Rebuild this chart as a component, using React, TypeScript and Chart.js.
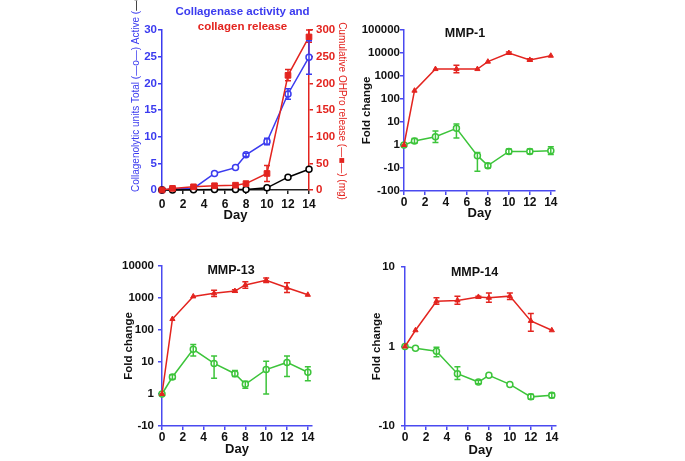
import React, { useEffect, useRef } from 'react';
import { Chart, registerables } from 'chart.js';

Chart.register(...registerables);

// ---------------- data ----------------
const days = [0, 1, 3, 5, 7, 8, 10, 12, 14];
const dayTicks = [0, 2, 4, 6, 8, 10, 12, 14];

// Panel: collagenase activity and collagen release
const collagenaseTotal = [0, 0.2, 0.3, 3.1, 4.2, 6.6, 9.1, 18.0, 24.9];
const collagenaseTotalLow = [null, null, null, null, null, 6.3, 8.5, 17.0, 21.7];
const collagenaseTotalHigh = [null, null, null, null, null, 6.9, 9.7, 19.0, 28.0];
const collagenaseActive = [0, 0, 0.05, 0.1, 0.1, 0.1, 0.4, 2.4, 3.9];
const ohproRelease = [0, 3, 6, 8, 9, 12, 31, 215, 287];
const ohproLow = [null, null, null, null, null, null, 16, 205, 277];
const ohproHigh = [null, null, null, null, null, null, 46, 226, 300];
const unitsTicks = [0, 5, 10, 15, 20, 25, 30];
const ohproTicks = [0, 50, 100, 150, 200, 250, 300];

// MMP-1 (fold change; negative = fold decrease)
const mmp1Red = [1, 230, 2000, 2000, 2000, 4200, 10000, 5000, 7600];
const mmp1RedLow = [null, null, null, 1380, null, null, 9100, 4450, null];
const mmp1RedHigh = [null, null, null, 2900, null, null, 11000, 5600, null];
const mmp1Green = [1, 1.5, 2.3, 5.3, -2.9, -7.9, -1.9, -1.9, -1.8];
const mmp1GreenLow = [null, 1.2, 1.3, 2.0, -13.8, -10, -2.4, -2.4, -2.6];
const mmp1GreenHigh = [null, 1.9, 4.1, 8.1, -2.1, -6.3, -1.5, -1.5, -1.2];
const mmp1Ticks = [-100, -10, 1, 10, 100, 1000, 10000, 100000];

// MMP-13
const mmp13Red = [1, 220, 1120, 1400, 1650, 2560, 3600, 2100, 1260];
const mmp13RedLow = [null, null, null, 1110, 1500, 2030, 3060, 1490, null];
const mmp13RedHigh = [null, null, null, 1760, 1800, 3220, 4230, 2970, null];
const mmp13Green = [1, 3.4, 25, 9, 4.3, 2, 5.8, 9.7, 4.8];
const mmp13GreenLow = [null, 2.9, 15.5, 3.1, 3.5, 1.5, 1, 3.5, 2.6];
const mmp13GreenHigh = [null, 4.0, 35.5, 15.5, 5.4, 2.5, 10.5, 15.5, 7.1];
const mmp13Ticks = [-10, 1, 10, 100, 1000, 10000];

// MMP-14
const mmp14Red = [1, 1.6, 3.7, 3.8, 4.2, 4.1, 4.3, 2.1, 1.6];
const mmp14RedLow = [null, null, 3.4, 3.4, 4.1, 3.6, 3.9, 1.55, null];
const mmp14RedHigh = [null, null, 4.1, 4.3, 4.3, 4.7, 4.7, 2.6, null];
const mmp14Green = [1, -1.05, -1.15, -2.2, -2.8, -2.3, -3.0, -4.3, -4.1];
const mmp14GreenLow = [null, null, -1.02, -1.8, -2.65, null, null, -4.0, -3.85];
const mmp14GreenHigh = [null, null, -1.35, -2.6, -2.95, null, null, -4.6, -4.4];
const mmp14Ticks = [-10, 1, 10];

// ---------------- styling ----------------
const RED = '#e3241f';
const GREEN = '#3cc43a';
const BLUE = '#3b3bef';
const AXIS_BLUE = '#4a4af0';
const INK = '#111111';
const FONT = "'Liberation Sans', Arial, Helvetica, sans-serif";
Chart.defaults.font.family = FONT;

// fold change -> plotted position (decades; fold decreases below 1)
const pos = (v: number | null) =>
  v == null ? null : v >= 1 ? Math.log10(v) : v <= -1 ? -Math.log10(-v) : 0;

const pts = (ys: number[], f: (v: number) => any = (v) => v) =>
  days.map((d, i) => ({ x: d, y: f(ys[i]) }));

type Seg = { text: string; color: string };
type TextItem = {
  x: number; y: number; size: number; weight?: string;
  rotate?: number; align?: 'left' | 'center'; segs: Seg[];
};

const extrasPlugin = {
  id: 'extras',
  afterDatasetsDraw(chart: any) {
    const ctx = chart.ctx;
    chart.data.datasets.forEach((ds: any, i: number) => {
      if (!ds.errLo) return;
      const ys = chart.scales[ds.yAxisID || 'y'];
      const xs = chart.scales.x;
      ctx.save();
      ctx.strokeStyle = ds.borderColor;
      ctx.lineWidth = 1.5;
      ds.data.forEach((pt: any, j: number) => {
        const lo = ds.errLo[j];
        const hi = ds.errHi[j];
        if (lo == null || hi == null) return;
        const px = xs.getPixelForValue(pt.x);
        const y1 = ys.getPixelForValue(lo);
        const y2 = ys.getPixelForValue(hi);
        ctx.beginPath();
        ctx.moveTo(px, y1); ctx.lineTo(px, y2);
        ctx.moveTo(px - 3, y1); ctx.lineTo(px + 3, y1);
        ctx.moveTo(px - 3, y2); ctx.lineTo(px + 3, y2);
        ctx.stroke();
      });
      ctx.restore();
    });
  },
  afterDraw(chart: any, _args: any, opts: any) {
    const ctx = chart.ctx;
    (opts.texts || []).forEach((t: TextItem) => {
      ctx.save();
      ctx.font = `${t.weight || 'bold'} ${t.size}px ${FONT}`;
      ctx.textBaseline = 'middle';
      ctx.textAlign = 'left';
      ctx.translate(t.x, t.y);
      if (t.rotate) ctx.rotate(t.rotate);
      const total = t.segs.reduce((s, g) => s + ctx.measureText(g.text).width, 0);
      let cx = t.align === 'left' ? 0 : -total / 2;
      t.segs.forEach((g) => {
        ctx.fillStyle = g.color;
        ctx.fillText(g.text, cx, 0);
        cx += ctx.measureText(g.text).width;
      });
      ctx.restore();
    });
  },
};

const tickFont = { size: 11.5, weight: 'bold' as const };
const xTickFont = { size: 12, weight: 'bold' as const };
const dayFont = { size: 13, weight: 'bold' as const };

function xScale(max: number, height: number, tickPad: number, dayPad: number, color: string) {
  return {
    type: 'linear',
    min: 0,
    max,
    afterBuildTicks: (s: any) => { s.ticks = dayTicks.map((v) => ({ value: v })); },
    afterFit: (s: any) => { s.height = height; },
    ticks: { autoSkip: false, maxRotation: 0, padding: tickPad, color: INK, font: xTickFont },
    grid: { drawOnChartArea: false, tickLength: 4, color, lineWidth: 1.5 },
    border: { color, width: 1.5 },
    title: { display: true, text: 'Day', color: INK, font: dayFont, padding: { top: 0, bottom: dayPad } },
  };
}

function collagenConfig() {
  return {
    type: 'line',
    data: {
      datasets: [
        {
          data: pts(ohproRelease), errLo: ohproLow, errHi: ohproHigh,
          yAxisID: 'y2', borderColor: RED, backgroundColor: RED, borderWidth: 1.5,
          pointStyle: 'rect', pointRadius: 4, pointBorderWidth: 1, tension: 0, clip: false,
        },
        {
          data: pts(collagenaseActive),
          yAxisID: 'y', borderColor: '#000', backgroundColor: '#fff', borderWidth: 1.5,
          pointStyle: 'circle', pointRadius: 3, pointBorderWidth: 1.5, tension: 0, clip: false,
        },
        {
          data: pts(collagenaseTotal), errLo: collagenaseTotalLow, errHi: collagenaseTotalHigh,
          yAxisID: 'y', borderColor: BLUE, backgroundColor: '#fff', borderWidth: 1.5,
          pointStyle: 'circle', pointRadius: 3, pointBorderWidth: 1.5, tension: 0, clip: false,
        },
      ],
    },
    options: {
      responsive: false,
      animation: false,
      layout: { padding: { top: 30, left: 0, right: 0, bottom: 0 } },
      plugins: {
        legend: { display: false },
        tooltip: { enabled: false },
        extras: {
          texts: [
            { x: 132.5, y: 12, size: 11.5, segs: [{ text: 'Collagenase activity and', color: BLUE }] },
            { x: 132.5, y: 27, size: 11.5, segs: [{ text: 'collagen release', color: RED }] },
            {
              x: 26, y: 192, size: 10, weight: 'normal', rotate: -Math.PI / 2, align: 'left',
              segs: [
                { text: 'Collagenolytic units Total (—o—) Active (', color: BLUE },
                { text: '—o—', color: '#000' },
                { text: ')', color: BLUE },
              ],
            },
            {
              x: 232, y: 111, size: 10, weight: 'normal', rotate: Math.PI / 2,
              segs: [{ text: 'Cumulative OHPro release (—■—) (mg)', color: RED }],
            },
          ],
        },
      },
      scales: {
        x: xScale(14, 35, 3, 2, '#222'),
        y: {
          type: 'linear', position: 'left', min: 0, max: 30,
          afterBuildTicks: (s: any) => { s.ticks = unitsTicks.map((v) => ({ value: v })); },
          afterFit: (s: any) => { s.width = 52; },
          ticks: { autoSkip: false, color: BLUE, font: tickFont, padding: 1 },
          grid: { drawOnChartArea: false, tickLength: 4, color: BLUE, lineWidth: 1.5 },
          border: { color: BLUE, width: 1.5 },
        },
        y2: {
          type: 'linear', position: 'right', min: 0, max: 300,
          afterBuildTicks: (s: any) => { s.ticks = ohproTicks.map((v) => ({ value: v })); },
          afterFit: (s: any) => { s.width = 46; },
          ticks: { autoSkip: false, color: RED, font: tickFont, padding: 3 },
          grid: { drawOnChartArea: false, tickLength: 4, color: RED, lineWidth: 1.5 },
          border: { color: RED, width: 1.5 },
        },
      },
    },
    plugins: [extrasPlugin],
  };
}

type FoldSpec = {
  title: string; titleX: number; titleY: number;
  ticks: number[];
  red: number[]; redLow: (number | null)[]; redHigh: (number | null)[];
  green: number[]; greenLow: (number | null)[]; greenHigh: (number | null)[];
  yWidth: number; yTitlePad: number; yTickPad: number;
  padTop: number; padRight: number; xHeight: number; xTickPad: number; dayPad: number;
};

function foldConfig(p: FoldSpec) {
  const tv = p.ticks.map((v) => pos(v) as number);
  return {
    type: 'line',
    data: {
      datasets: [
        {
          data: pts(p.red, pos), errLo: p.redLow.map(pos), errHi: p.redHigh.map(pos),
          borderColor: RED, backgroundColor: RED, borderWidth: 1.5,
          pointStyle: 'triangle', pointRadius: 3, pointBorderWidth: 1, tension: 0, clip: false,
        },
        {
          data: pts(p.green, pos), errLo: p.greenLow.map(pos), errHi: p.greenHigh.map(pos),
          borderColor: GREEN, backgroundColor: '#fff', borderWidth: 1.5,
          pointStyle: 'circle', pointRadius: 3, pointBorderWidth: 1.5, tension: 0, clip: false,
        },
      ],
    },
    options: {
      responsive: false,
      animation: false,
      layout: { padding: { top: p.padTop, left: 0, right: p.padRight, bottom: 0 } },
      plugins: {
        legend: { display: false },
        tooltip: { enabled: false },
        extras: {
          texts: [{ x: p.titleX, y: p.titleY, size: 12.5, segs: [{ text: p.title, color: INK }] }],
        },
      },
      scales: {
        x: xScale(14.4, p.xHeight, p.xTickPad, p.dayPad, AXIS_BLUE),
        y: {
          type: 'linear', position: 'left', min: tv[0], max: tv[tv.length - 1],
          afterBuildTicks: (s: any) => { s.ticks = tv.map((v) => ({ value: v })); },
          afterFit: (s: any) => { s.width = p.yWidth; },
          ticks: {
            autoSkip: false, color: INK, font: tickFont, padding: p.yTickPad,
            callback: (_v: any, i: number) => String(p.ticks[i]),
          },
          grid: { drawOnChartArea: false, tickLength: 4, color: AXIS_BLUE, lineWidth: 1.5 },
          border: { color: AXIS_BLUE, width: 1.5 },
          title: {
            display: true, text: 'Fold change', color: INK,
            font: { size: 11.5, weight: 'bold' }, padding: { top: p.yTitlePad, bottom: 0 },
          },
        },
      },
    },
    plugins: [extrasPlugin],
  };
}

function ChartBox(props: { make: () => any; left: number; top: number; width: number; height: number }) {
  const ref = useRef<HTMLCanvasElement | null>(null);
  useEffect(() => {
    const chart = new Chart(ref.current as HTMLCanvasElement, props.make());
    return () => chart.destroy();
  }, []);
  return (
    <canvas
      ref={ref}
      width={props.width}
      height={props.height}
      style={{ position: 'absolute', left: props.left, top: props.top, width: props.width, height: props.height }}
    />
  );
}

export default function App() {
  return (
    <div style={{ position: 'absolute', left: 0, top: 0, width: 685, height: 461, background: '#fff', overflow: 'hidden' }}>
      <ChartBox make={collagenConfig} left={110} top={0} width={245} height={225} />
      <ChartBox
        make={() => foldConfig({
          title: 'MMP-1', titleX: 125, titleY: 34, ticks: mmp1Ticks,
          red: mmp1Red, redLow: mmp1RedLow, redHigh: mmp1RedHigh,
          green: mmp1Green, greenLow: mmp1GreenLow, greenHigh: mmp1GreenHigh,
          yWidth: 64, yTitlePad: 20, yTickPad: 0,
          padTop: 30, padRight: 15, xHeight: 34, xTickPad: 0, dayPad: 4,
        })}
        left={340} top={0} width={230} height={225}
      />
      <ChartBox
        make={() => foldConfig({
          title: 'MMP-13', titleX: 131, titleY: 31, ticks: mmp13Ticks,
          red: mmp13Red, redLow: mmp13RedLow, redHigh: mmp13RedHigh,
          green: mmp13Green, greenLow: mmp13GreenLow, greenHigh: mmp13GreenHigh,
          yWidth: 62, yTitlePad: 22, yTickPad: 4,
          padTop: 26, padRight: 18, xHeight: 35, xTickPad: 0, dayPad: 4,
        })}
        left={100} top={240} width={230} height={221}
      />
      <ChartBox
        make={() => foldConfig({
          title: 'MMP-14', titleX: 129.5, titleY: 33, ticks: mmp14Ticks,
          red: mmp14Red, redLow: mmp14RedLow, redHigh: mmp14RedHigh,
          green: mmp14Green, greenLow: mmp14GreenLow, greenHigh: mmp14GreenHigh,
          yWidth: 60, yTitlePad: 25, yTickPad: 6,
          padTop: 27, padRight: 19, xHeight: 35, xTickPad: 0, dayPad: 3,
        })}
        left={345} top={240} width={230} height={221}
      />
    </div>
  );
}
